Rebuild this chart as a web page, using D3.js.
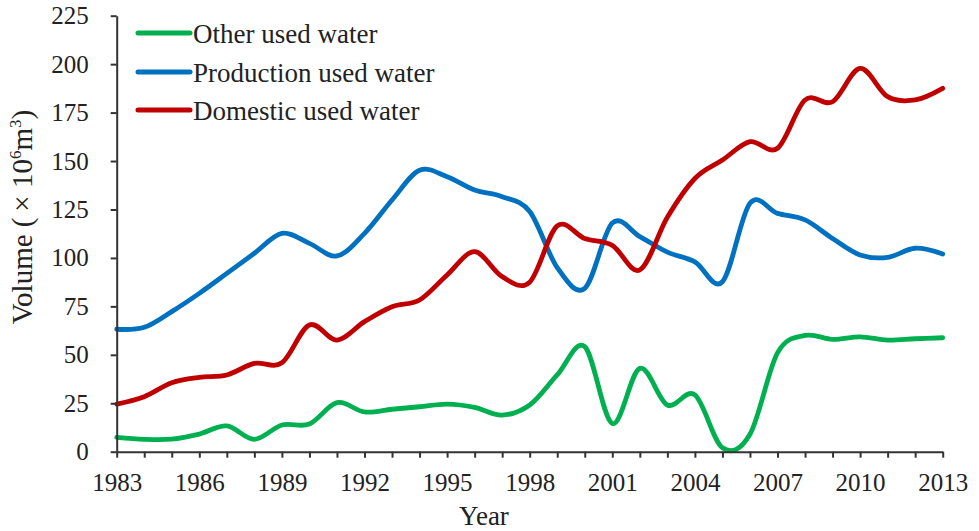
<!DOCTYPE html>
<html>
<head>
<meta charset="utf-8">
<script src="https://cdn.jsdelivr.net/npm/d3@7/dist/d3.min.js"></script>
<style>
  html, body { margin: 0; padding: 0; background: #fff; }
  svg { display: block; }
  text { font-family: "Liberation Serif", "Times New Roman", serif; fill: #222; }
</style>
</head>
<body>
<svg id="chart" width="979" height="531"></svg>
<script>
const years = d3.range(1983, 2014);
const seriesNames = ["Other used water", "Production used water", "Domestic used water"];
const seriesColors = ["#00B050", "#0070C0", "#C00000"];
const otherWater = [7.4, 6.4, 6.5, 9.1, 13.3, 6.4, 13.8, 14.3, 25.3, 20.5, 21.9, 23.2, 24.6, 22.9, 18.9, 24.1, 39.6, 54.2, 14.6, 43, 24.1, 29.3, 2, 9, 51, 60, 58, 59.3, 57.6, 58.3, 58.8];
const productionWater = [63.2, 64.2, 72.3, 81.7, 92, 102.4, 112.7, 107.5, 101, 112.7, 129.9, 145.2, 141.9, 135, 131.6, 124, 95, 84.3, 118, 111, 103, 98, 87.7, 128.2, 123, 119.6, 110, 101.5, 100.3, 105, 102];
const domesticWater = [24.6, 28.4, 35.6, 38.4, 39.6, 45.6, 45.9, 65.4, 57.6, 67.1, 74.8, 78.3, 91.2, 103.2, 90.3, 87.5, 116.5, 110, 106.5, 93.8, 121, 141, 150.5, 160, 156.6, 181.5, 180.6, 197.8, 183.2, 181.5, 187.5];
const yTicks = [0, 25, 50, 75, 100, 125, 150, 175, 200, 225];
const xLabelYears = [1983, 1986, 1989, 1992, 1995, 1998, 2001, 2004, 2007, 2010, 2013];

const series = [otherWater, productionWater, domesticWater];

const svg = d3.select("#chart");
const x = d3.scaleLinear().domain([1983, 2013]).range([116.7, 942.7]);
const y = d3.scaleLinear().domain([0, 225]).range([451.7, 15.7]);

// Lines
const line = d3.line()
  .x((d, i) => x(years[i]))
  .y(d => y(d))
  .curve(d3.curveCardinal.tension(0));

svg.append("g").selectAll("path")
  .data(series)
  .join("path")
  .attr("d", d => line(d))
  .attr("fill", "none")
  .attr("stroke", (d, i) => seriesColors[i])
  .attr("stroke-width", 4.8)
  .attr("stroke-linejoin", "round")
  .attr("stroke-linecap", "round");

// Y axis
const yAxis = d3.axisLeft(y).tickValues(yTicks).tickSize(6).tickSizeOuter(0).tickPadding(22);
const gy = svg.append("g").attr("transform", `translate(${x(1983)},0)`).call(yAxis);
gy.select(".domain").attr("stroke", "#333").attr("stroke-width", 2);
gy.selectAll(".tick line").attr("stroke", "#333").attr("stroke-width", 2);
gy.selectAll(".tick text").attr("font-size", 25).attr("font-family", "Liberation Serif").attr("fill", "#333");

// X axis
const xAxis = d3.axisBottom(x).tickValues(years).tickSize(6).tickSizeOuter(0).tickPadding(16)
  .tickFormat(d => xLabelYears.includes(d) ? String(d) : "");
const gx = svg.append("g").attr("transform", `translate(0,${y(0)})`).call(xAxis);
gx.select(".domain").attr("stroke", "#333").attr("stroke-width", 2);
gx.selectAll(".tick line").attr("stroke", "#333").attr("stroke-width", 2);
gx.selectAll(".tick text").attr("font-size", 25).attr("font-family", "Liberation Serif").attr("fill", "#333");

// Axis titles
svg.append("text")
  .attr("x", 484).attr("y", 525)
  .attr("text-anchor", "middle")
  .attr("font-size", 27)
  .attr("fill", "#333")
  .text("Year");

const yt = svg.append("text")
  .attr("transform", "translate(32,217) rotate(-90)")
  .attr("text-anchor", "middle")
  .attr("font-size", 29)
  .attr("fill", "#333");
yt.append("tspan").text("Volume (\u2009× 10");
yt.append("tspan").attr("font-size", 17).attr("dy", -11).text("6");
yt.append("tspan").attr("dy", 11).text("m");
yt.append("tspan").attr("font-size", 17).attr("dy", -11).text("3");
yt.append("tspan").attr("dy", 11).text(")");

// Legend
const legend = svg.append("g");
const legendY = [33, 72, 110];
seriesNames.forEach((name, i) => {
  legend.append("line")
    .attr("x1", 138).attr("x2", 190)
    .attr("y1", legendY[i]).attr("y2", legendY[i])
    .attr("stroke", seriesColors[i]).attr("stroke-width", 5)
    .attr("stroke-linecap", "round");
  legend.append("text")
    .attr("x", 193).attr("y", legendY[i] + 10)
    .attr("font-size", 27)
    .attr("fill", "#333")
    .text(name);
});
</script>
</body>
</html>
